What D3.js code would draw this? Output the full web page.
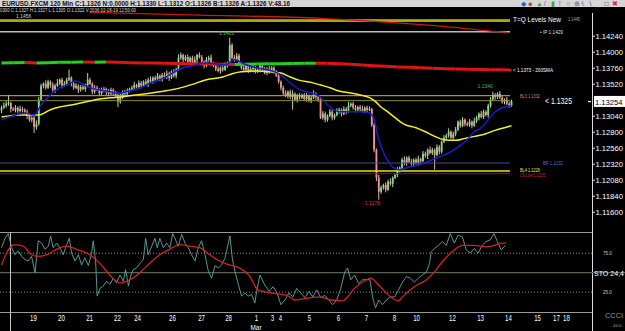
<!DOCTYPE html>
<html>
<head>
<meta charset="utf-8">
<script src="https://cdn.jsdelivr.net/npm/d3@7"></script>
<style>
  html, body { margin: 0; padding: 0; background: #000; overflow: hidden; }
  svg { display: block; }
  text { font-family: "Liberation Sans Narrow", "Liberation Sans", Arial, sans-serif; }
</style>
</head>
<body>
<div id="chart"></div>
<script>
// EURUSD 120 min bars, 19 Feb - 14 Mar
const firstOpen = 1.1312;
const closes = [
  1.1316, 1.1319, 1.1322, 1.1323, 1.1314,                                  // 0-4
  1.1313, 1.1316, 1.1311, 1.1314, 1.1313, 1.1310,                          // 5-10
  1.1304, 1.1298, 1.1301, 1.1287, 1.1292, 1.1328, 1.1349,                  // 11-17
  1.1352, 1.1346, 1.1355, 1.1350, 1.1343, 1.1349, 1.1353, 1.1358, 1.1349, 1.1352, // 18-27
  1.1358, 1.1361, 1.1352,                                                  // 28-30
  1.1346, 1.1349, 1.1343, 1.1347, 1.1344, 1.1350,                          // 31-36
  1.1358, 1.1352, 1.1340, 1.1346,                                          // 37-40
  1.1343, 1.1338, 1.1341, 1.1344, 1.1340, 1.1337, 1.1343, 1.1338, 1.1335, 1.1325,
  1.1331, 1.1340, 1.1337, 1.1341, 1.1344,                                  // 41-55
  1.1346, 1.1350, 1.1347, 1.1353, 1.1349, 1.1355, 1.1352, 1.1358,          // 56-63
  1.1355, 1.1361, 1.1358, 1.1364, 1.1359, 1.1365, 1.1362,                  // 64-70
  1.1367, 1.1361, 1.1370, 1.1364, 1.1373,                                  // 71-75
  1.1391, 1.1395, 1.1388, 1.1392,                                          // 76-79
  1.1385, 1.1391, 1.1382, 1.1388, 1.1395, 1.1392, 1.1385, 1.1379, 1.1388, 1.1391, 1.1383, // 80-90
  1.1379, 1.1374, 1.1371, 1.1376, 1.1373, 1.1380, 1.1383,                  // 91-97
  1.1410, 1.1391, 1.1388, 1.1394, 1.1383,                                  // 98-102
  1.1376, 1.1373, 1.1379, 1.1371, 1.1374, 1.1377, 1.1370,                  // 103-109
  1.1373, 1.1379, 1.1373, 1.1368, 1.1374, 1.1371, 1.1376, 1.1370,          // 110-117
  1.1364, 1.1355, 1.1346, 1.1338, 1.1334,                                  // 118-122
  1.1340, 1.1332, 1.1337, 1.1328, 1.1334, 1.1331,                          // 123-128
  1.1335, 1.1329, 1.1334, 1.1326, 1.1331, 1.1337, 1.1332, 1.1328,          // 129-136
  1.1301, 1.1307, 1.1298, 1.1304, 1.1310, 1.1301, 1.1305,                  // 137-143
  1.1310, 1.1313, 1.1307, 1.1314, 1.1311,                                  // 144-148
  1.1319, 1.1322, 1.1316, 1.1313, 1.1317, 1.1314,                          // 149-154
  1.1311, 1.1316, 1.1313, 1.1314,                                          // 155-158
  1.1290, 1.1253, 1.1211, 1.1190,                                          // 159-162
  1.1196, 1.1200, 1.1193, 1.1205, 1.1202, 1.1211, 1.1215,                  // 163-169
  1.1223, 1.1226, 1.1238, 1.1233, 1.1241, 1.1235,                          // 170-175
  1.1232, 1.1238, 1.1233, 1.1239, 1.1236,                                  // 176-180
  1.1247, 1.1244, 1.1253, 1.1248, 1.1253, 1.1245, 1.1257, 1.1250,          // 181-188
  1.1265, 1.1271, 1.1274, 1.1280, 1.1271, 1.1277, 1.1283,                  // 189-195
  1.1295, 1.1289, 1.1298, 1.1292, 1.1290, 1.1295, 1.1289, 1.1296,          // 196-203
  1.1301, 1.1307, 1.1302, 1.1310, 1.1305, 1.1319, 1.1328,                  // 204-210
  1.1335, 1.1332, 1.1337, 1.1331,                                          // 211-214
  1.1325, 1.1328, 1.1322, 1.1319, 1.1326                                   // 215-219
];
// wick lengths in pips above / below the body
const wickUp = [
  3,5,4,12,2, 3,4,2,5,3, 2,3,4,2,3, 5,4,3,2,5,
  3,2,4,3,6, 2,3,4,3,12, 2,3,4,2,3, 5,2,10,3,2,
  4,3,2,5,3, 2,4,3,2,3, 4,6,2,3,4, 2,3,5,2,4,
  3,2,4,3,5, 2,3,4,2,3, 4,5,3,2,4, 3,5,4,2,3,
  4,2,3,5,2, 4,3,2,4,3, 5,2,3,4,2, 3,4,2,11,3,
  4,4,3,2,4, 3,2,5,3,2, 4,3,2,4,3, 5,2,3,2,3,
  2,3,4,2,3, 5,2,3,4,2, 3,4,2,3,5, 2,3,2,4,3,
  2,4,3,2,5, 3,2,4,3,6, 2,3,4,2,3, 5,2,3,4,2,
  3,2,4,3,2, 4,3,5,2,3, 4,2,3,5,2, 3,4,2,3,5,
  2,4,3,2,5, 3,2,4,3,2, 4,3,5,2,3, 4,2,3,4,2,
  3,4,2,5,3, 2,4,3,2,3, 4,5,3,2,4, 3,2,4,3,2
];
const wickDown = [
  4,2,3,3,5, 2,4,3,2,4, 3,5,3,4,9, 4,3,2,4,3,
  2,4,3,5,2, 3,4,2,3,2, 4,3,2,5,3, 2,4,3,2,4,
  3,2,4,3,2, 5,3,2,4,3, 8,3,2,4,3, 2,3,4,2,3,
  4,2,3,5,2, 3,4,2,3,4, 2,3,5,2,3, 4,2,3,4,2,
  3,4,2,3,5, 2,3,4,2,3, 4,2,3,2,4, 3,2,4,3,2,
  3,2,4,3,2, 4,3,2,5,3, 2,4,3,2,3, 4,2,3,2,3,
  4,3,2,4,3, 19,2,4,3,2, 3,4,2,3,2, 4,3,2,3,4,
  3,2,4,3,2, 3,4,2,5,3, 2,3,4,2,3, 2,3,4,2,3,
  4,5,12,3,3, 4,2,3,5,2, 3,4,2,3,4, 2,3,4,2,3,
  4,2,3,5,2, 3,22,2,4,3, 2,4,3,2,3, 4,2,3,2,4,
  2,3,4,2,3, 4,2,3,2,4, 3,2,4,3,2, 3,4,2,3,2
];

// moving averages, [bar, price]
const blueMA = [[0,1.1298],[5,1.1304],[10,1.1308],[14,1.1305],[17,1.1320],[21,1.1335],[25,1.1346],[28,1.1350],
  [32,1.1356],[36,1.1349],[40,1.1344],[45,1.1341],[50,1.1338],[55,1.1341],[60,1.1346],[64,1.1353],[70,1.1361],
  [75,1.1371],[78,1.1376],[82,1.1379],[87,1.1383],[92,1.1382],[96,1.1380],[100,1.1388],[104,1.1382],[108,1.1377],
  [114,1.1373],[120,1.1365],[124,1.1353],[128,1.1343],[133,1.1338],[137,1.1332],[141,1.1317],[145,1.1310],
  [150,1.1310],[154,1.1310],[158,1.1308],[160,1.1298],[162,1.1268],[165,1.1242],[168,1.1227],[171,1.1223],
  [175,1.1227],[179,1.1230],[183,1.1235],[187,1.1241],[192,1.1248],[196,1.1257],[200,1.1268],[203,1.1280],
  [206,1.1286],[209,1.1298],[212,1.1310],[215,1.1316],[219,1.1319]];
const yellowMA = [[0,1.1302],[8,1.1305],[16,1.1305],[21,1.1313],[25,1.1317],[30,1.1320],[34,1.1323],[38,1.1326],
  [42,1.1329],[47,1.1331],[51,1.1332],[55,1.1334],[62,1.1337],[70,1.1341],[76,1.1345],[82,1.1351],[88,1.1358],
  [95,1.1362],[99,1.1367],[103,1.1370],[110,1.1371],[115,1.1370],[120,1.1368],[124,1.1362],[128,1.1357],
  [133,1.1354],[137,1.1350],[141,1.1346],[145,1.1341],[150,1.1338],[154,1.1335],[158,1.1331],[161,1.1324],
  [163,1.1317],[165,1.1312],[169,1.1301],[173,1.1291],[178,1.1286],[182,1.1280],[186,1.1273],[190,1.1268],
  [195,1.1267],[199,1.1270],[203,1.1273],[208,1.1277],[212,1.1282],[216,1.1286],[219,1.1289]];
const sma200 = [[0,1.13830],[5,1.13834],[10,1.13838],[15,1.13832],[20,1.13836],[25,1.13840],[30,1.13843],
  [35,1.13846],[40,1.13842],[45,1.13844],[50,1.13840],[55,1.13836],[60,1.13832],[65,1.13829],[70,1.13826],
  [75,1.13823],[80,1.13820],[85,1.13817],[90,1.13814],[95,1.13811],[100,1.13808],[105,1.13811],[110,1.13815],
  [115,1.13818],[120,1.13821],[125,1.13823],[130,1.13825],[135,1.13827],[140,1.13826],[145,1.13818],
  [150,1.13810],[155,1.13800],[160,1.13790],[165,1.13780],[170,1.13772],[175,1.13765],[180,1.13758],
  [185,1.13752],[190,1.13746],[195,1.13740],[200,1.13736],[205,1.13733],[210,1.13730],[215,1.13728],[219,1.13726]];
const longMA = [[38,1.1459],[85,1.1455],[137,1.1450],[171,1.1443],[193,1.1437],[213,1.1430],[217,1.1429]];

// T=Q levels
const levelTQ = 1.1447, levelIP = 1.1430, levelBL3 = 1.1334, levelBid = 1.13266;
const levelBP = 1.1233, levelBL4 = 1.1221, levelLSLow = 1.1217;
const lastPrice = 1.13254;

// stochastic 24,4 : %K and %D, [bar, value]
const stochK = [[0,82],[1.5,94],[2.9,100],[4.4,82],[5.8,73],[7.2,78],[8.6,71],[10.1,67],[11.5,65],[12.9,71],
  [14.4,50],[15.8,91],[17.2,88],[18.7,80],[20.1,84],[21.1,97],[22.2,82],[23.7,88],[25.1,82],[26.5,73],[28,86],
  [29.1,94],[30.1,75],[31.6,65],[33,73],[34.4,60],[35.8,69],[37.3,59],[38.7,75],[39.4,91],[40.4,65],[41.1,20],
  [42.3,30],[43.7,33],[45.1,39],[46.6,35],[48,43],[49.4,37],[50.9,47],[52.3,39],[53.3,54],[54.5,33],[55.5,46],
  [56.6,54],[58,56],[59.5,62],[60.9,67],[61.9,94],[63,73],[64.5,84],[65.9,94],[66.9,82],[68,94],[69.5,82],
  [70.9,88],[72.3,82],[73.5,100],[74.5,94],[75.9,84],[77.4,99],[78.8,88],[80.2,82],[81.6,73],[83.1,65],[84.5,82],
  [85.9,91],[87.4,73],[88.8,52],[90.2,43],[91.7,59],[93.1,56],[94.5,60],[96,69],[97.4,88],[98.1,97],[99.1,69],
  [100.2,52],[101.7,35],[103.1,20],[104.5,24],[106,20],[107.4,22],[108.8,11],[109.6,27],[111,47],[113.1,34],
  [114.9,26],[116.6,32],[118.3,24],[120,9],[121.7,15],[123.4,24],[125.1,19],[126.8,30],[128.5,24],[130.3,18],
  [132,26],[133.7,19],[135.4,28],[137.1,18],[138.8,21],[140.5,15],[142.2,9],[144,15],[145.7,30],[147.4,51],
  [148.6,56],[150,41],[151.6,47],[153.4,36],[155.1,41],[156.8,41],[158.2,41],[159.4,18],[160.6,5],[162,15],
  [163.6,9],[165.3,15],[167,19],[168.8,19],[170.5,28],[172.2,38],[173.9,45],[175.6,43],[177.3,38],[179,43],
  [180.7,47],[182.5,51],[183.8,62],[184.5,77],[185.9,81],[187.6,85],[189.3,90],[191,85],[192.7,100],[194.4,88],
  [196.1,98],[197.9,96],[199.6,79],[201.3,75],[203,81],[204.7,75],[206.4,85],[208.1,90],[209.8,92],[211.5,100],
  [212.9,90],[214.6,79],[216.3,85]];
const stochD = [[0,60],[3.6,82],[5.8,86],[9.4,84],[12.2,75],[15.1,71],[19.4,73],[23.6,80],[27.9,84],[32.2,80],
  [37.9,73],[42.2,62],[46.5,47],[50.8,37],[55.1,41],[59.4,50],[63.6,62],[67.9,73],[72.2,80],[76.5,86],[80.8,84],
  [85.1,82],[89.4,73],[93.6,65],[97.9,60],[102.2,56],[106.5,46],[110.1,28],[115.7,24],[122.6,21],[126,15],
  [132.8,18],[136.3,19],[141.4,15],[146.5,14],[151.6,30],[156.8,41],[158.5,43],[162,34],[167.1,19],[170.5,14],
  [172.2,19],[177.3,32],[182.5,41],[185.9,51],[189.3,64],[194.4,79],[197.9,85],[203,85],[208.1,83],[211.5,85],
  [214.9,88],[216.7,88]];

// axes
const priceTicks = [1.1424, 1.1400, 1.1376, 1.1352, 1.1304, 1.1280, 1.1256, 1.1232, 1.1208, 1.1184, 1.1160];
const dayLabels = ["19","20","21","22","24","26","27","28","1","3","4","5","6","7","8","10","12","13","14","15","17","18"];
const dayTickBars = [13.5,25.5,37.6,49.6,58.2,73.2,85.7,97.3,109.3,116.1,119.6,132,144.5,156.5,168.5,178,193.4,205.5,217.5,230,238.1,242.4];

const W = 625, H = 331, pip = 0.0001;
const svg = d3.select("#chart").append("svg").attr("width", W).attr("height", H);
svg.append("rect").attr("width", W).attr("height", H).attr("fill", "#000");

const x = d3.scaleLinear().domain([0, 219]).range([1.5, 511.5]);
const y = d3.scaleLinear().domain([1.1424, 1.1160]).range([35.7, 211.7]);
const ys = d3.scaleLinear().domain([0, 100]).range([311.7, 233.7]);

// header strip
svg.append("rect").attr("width", W).attr("height", 7).attr("fill", "#d6d6d6");
svg.append("text").attr("x", 2).attr("y", 5.8).attr("font-size", 6.5).attr("font-weight", "bold").attr("fill", "#111")
  .attr("textLength", 288).attr("lengthAdjust", "spacingAndGlyphs")
  .text("EURUSD.FXCM 120 Min  C:1.1326  N:0.0000  H:1.1330  L:1.1312  O:1.1326  B:1.1326  A:1.1326  V:48.16");
const icons = [["\u25C6","#3060c0"],["\u25A0","#c04040"],["\u25B2","#40a040"],["/","#2060c0"],["\u25AE","#40a040"],
  ["!","#c03030"],["\u25CB","#406080"],["\u2295","#406080"],["\\","#204080"],["\\","#204080"],["_","#333"],["\u25A1","#333"],["\u2716","#c03030"]];
svg.append("g").selectAll("text").data(icons).join("text")
  .attr("x", (d, i) => 521 + i * 7.6).attr("y", 6).attr("font-size", 6.5).attr("fill", d => d[1]).text(d => d[0]);

svg.append("text").attr("x", 0).attr("y", 12).attr("font-size", 5.5).attr("fill", "#ddd")
  .attr("textLength", 136).attr("lengthAdjust", "spacingAndGlyphs")
  .text("0300 C:1.1327 H:1.1327 L:1.1305 O:1.1322 V:2036 02-18-19 12:50:00");
svg.append("text").attr("x", 16).attr("y", 17.5).attr("font-size", 5).attr("fill", "#ccc").text("1.1456");

// candles
const bars = closes.map((c, i) => {
  const o = i ? closes[i - 1] : firstOpen;
  return { i, o, c, h: Math.max(o, c) + wickUp[i] * pip, l: Math.min(o, c) - wickDown[i] * pip };
});
const cg = svg.append("g");
cg.selectAll("line").data(bars).join("line")
  .attr("x1", d => x(d.i)).attr("x2", d => x(d.i))
  .attr("y1", d => y(d.h)).attr("y2", d => y(d.l))
  .attr("stroke", d => d.c >= d.o ? "#c8f0c8" : "#f4c8c8").attr("stroke-width", 0.9);
cg.selectAll("rect").data(bars).join("rect")
  .attr("x", d => x(d.i) - 0.9).attr("width", 1.8)
  .attr("y", d => y(Math.max(d.o, d.c)))
  .attr("height", d => Math.max(1, Math.abs(y(d.o) - y(d.c))))
  .attr("fill", d => d.c >= d.o ? "#86dc86" : "#ee9494");

// horizontal levels
const hl = (p, color, w, x2 = 510) => svg.append("line").attr("x1", 0).attr("x2", x2)
  .attr("y1", y(p)).attr("y2", y(p)).attr("stroke", color).attr("stroke-width", w);
hl(levelTQ + 0.0001, "#e09030", 1);
hl(levelTQ - 0.0001, "#d8d820", 1.5);
hl(levelIP, "#bdbdbd", 1.5);
hl(levelBL3, "#f0a060", 1);
hl(levelBid, "#8a8a28", 1);
hl(levelBP, "#4a4a90", 1);
hl(levelBL4, "#e8e020", 1.5);
hl(levelLSLow, "#8a1818", 1);

// long MA (top, red)
const lineP = d3.line().x(d => x(d[0])).y(d => y(d[1])).curve(d3.curveMonotoneX);
svg.append("path").attr("d", lineP(longMA)).attr("fill", "none").attr("stroke", "#c81818").attr("stroke-width", 1.3);

// 200 SMA coloured by slope
const segs = d3.pairs(sma200);
svg.append("g").selectAll("line").data(segs).join("line")
  .attr("x1", d => x(d[0][0])).attr("y1", d => y(d[0][1]))
  .attr("x2", d => x(d[1][0])).attr("y2", d => y(d[1][1]))
  .attr("stroke", d => d[1][1] >= d[0][1] ? "#22d022" : "#e01414").attr("stroke-width", 3);

// moving averages
svg.append("path").attr("d", lineP(yellowMA)).attr("fill", "none").attr("stroke", "#f2f020").attr("stroke-width", 1.5);
svg.append("path").attr("d", lineP(blueMA)).attr("fill", "none").attr("stroke", "#1c1ccc").attr("stroke-width", 1.5);

// swing labels
const fmt4 = d3.format(".4f");
svg.append("text").attr("x", x(98) - 3).attr("y", y(bars[98].h) - 3).attr("text-anchor", "middle")
  .attr("font-size", 5).attr("fill", "#40c040").text(fmt4(bars[98].h));
svg.append("text").attr("x", x(162) + 1).attr("y", y(bars[162].l) + 5).attr("text-anchor", "end")
  .attr("font-size", 5).attr("fill", "#e03030").text("- " + fmt4(bars[162].l));
svg.append("text").attr("x", x(211)).attr("y", y(bars[211].h) - 4).attr("text-anchor", "end")
  .attr("font-size", 5).attr("fill", "#40c040").text(fmt4(bars[211].h));

// right-side level captions
const cap = (tx, ty, s, size, color, len) => {
  const t = svg.append("text").attr("x", tx).attr("y", ty).attr("font-size", size).attr("fill", color).text(s);
  if (len) t.attr("textLength", len).attr("lengthAdjust", "spacingAndGlyphs");
  return t;
};
cap(513, y(levelTQ) + 1.5, "T=Q Levels New", 8, "#fff", 48);
cap(568, y(levelTQ) + 1, "1.1445", 4.5, "#aaa", 12);
cap(540, y(levelIP) + 2, "\u2022 IP 1.1429", 5, "#ddd", 23);
cap(513, y(1.13726) + 2, "< 1.1373 - 200SMA", 5.5, "#fff", 40);
cap(520, y(levelBL3) + 2, "BL3 1.1332", 5, "#d08a4a", 20);
cap(545, y(levelBid) + 3.5, "< 1.1325", 9.5, "#fff", 27);
cap(543, y(levelBP) + 2, "BP 1.1232", 5, "#4a6ad0", 20);
cap(520, y(levelBL4) + 1, "BL4 1.1226", 5, "#e0e070", 20);
cap(520, y(levelLSLow) + 3, "LS Low 1.1215", 5, "#c83030", 25);

// price axis
svg.append("line").attr("x1", 592.5).attr("x2", 592.5).attr("y1", 13).attr("y2", H).attr("stroke", "#ddd");
const ay = svg.append("g").attr("transform", "translate(592.5,0)")
  .call(d3.axisRight(y).tickValues(priceTicks).tickFormat(d3.format(".5f")).tickSize(2.5).tickPadding(0.5));
ay.select(".domain").remove();
ay.selectAll("line").attr("stroke", "#ddd");
ay.selectAll("text").attr("fill", "#fff").attr("font-size", 8)
  .attr("font-family", "Liberation Sans Narrow, Liberation Sans, Arial")
  .attr("textLength", 27.5).attr("lengthAdjust", "spacingAndGlyphs");
svg.append("rect").attr("x", 588).attr("y", y(lastPrice) - 0.5).attr("width", 3).attr("height", 1.2).attr("fill", "#fff");
svg.append("rect").attr("x", 594).attr("y", y(lastPrice) - 5.5).attr("width", 31).attr("height", 11).attr("fill", "#fff");
svg.append("text").attr("x", 595).attr("y", y(lastPrice) + 3.2).attr("font-size", 8).attr("fill", "#000")
  .attr("textLength", 27.5).attr("lengthAdjust", "spacingAndGlyphs").text(d3.format(".5f")(lastPrice));

// stochastic panel
const sp = svg.append("g");
sp.append("line").attr("x1", 0).attr("x2", 592).attr("y1", 232.5).attr("y2", 232.5).attr("stroke", "#9a9a9a");
sp.append("line").attr("x1", 0).attr("x2", 592).attr("y1", 312.5).attr("y2", 312.5).attr("stroke", "#9a9a9a");
[75, 25].forEach(v => sp.append("line").attr("x1", 0).attr("x2", 592).attr("y1", ys(v)).attr("y2", ys(v))
  .attr("stroke", "#aaa").attr("stroke-width", 0.8).attr("stroke-dasharray", "1,2"));
sp.append("line").attr("x1", 0).attr("x2", W).attr("y1", ys(50)).attr("y2", ys(50)).attr("stroke", "#55644f").attr("stroke-width", 1.2);
sp.append("line").attr("x1", 10.5).attr("x2", 10.5).attr("y1", 232).attr("y2", H).attr("stroke", "#c8c8c8");
const lineS = d3.line().x(d => x(d[0])).y(d => ys(d[1]));
sp.append("path").attr("d", lineS(stochK)).attr("fill", "none").attr("stroke", "#62a7a2").attr("stroke-width", 0.9);
sp.append("path").attr("d", lineS.curve(d3.curveMonotoneX)(stochD)).attr("fill", "none").attr("stroke", "#d42222").attr("stroke-width", 1.3);
sp.append("text").attr("x", 603).attr("y", ys(75) + 2).attr("font-size", 4.5).attr("fill", "#ccc").text("75.0");
sp.append("text").attr("x", 603).attr("y", ys(25) + 2).attr("font-size", 4.5).attr("fill", "#ccc").text("25.0");
sp.append("text").attr("x", 594).attr("y", ys(50) + 3.5).attr("font-size", 8).attr("fill", "#fff")
  .attr("textLength", 30).attr("lengthAdjust", "spacingAndGlyphs").text("STO 24,4");
sp.append("text").attr("x", 605).attr("y", 318).attr("font-size", 7).attr("fill", "#999")
  .attr("textLength", 18).attr("lengthAdjust", "spacingAndGlyphs").text("CCCI");
sp.append("text").attr("x", 612).attr("y", 327).attr("font-size", 4).attr("fill", "#bbb").text("-10.0");

// date axis
const ax = svg.append("g").attr("transform", "translate(0,312)")
  .call(d3.axisBottom(x).tickValues(dayTickBars).tickFormat((d, i) => dayLabels[i]).tickSize(0).tickPadding(2.5));
ax.select(".domain").remove();
ax.selectAll("text").attr("fill", "#fff").attr("font-size", 8.5)
  .attr("font-family", "Liberation Sans Narrow, Liberation Sans, Arial")
  .attr("textLength", function() { return this.textContent.length * 3.4; })
  .attr("lengthAdjust", "spacingAndGlyphs");
svg.append("text").attr("x", x(109.3)).attr("y", 329.5).attr("text-anchor", "middle").attr("font-size", 7.5).attr("fill", "#fff")
  .attr("textLength", 11).attr("lengthAdjust", "spacingAndGlyphs").text("Mar");
</script>
</body>
</html>
